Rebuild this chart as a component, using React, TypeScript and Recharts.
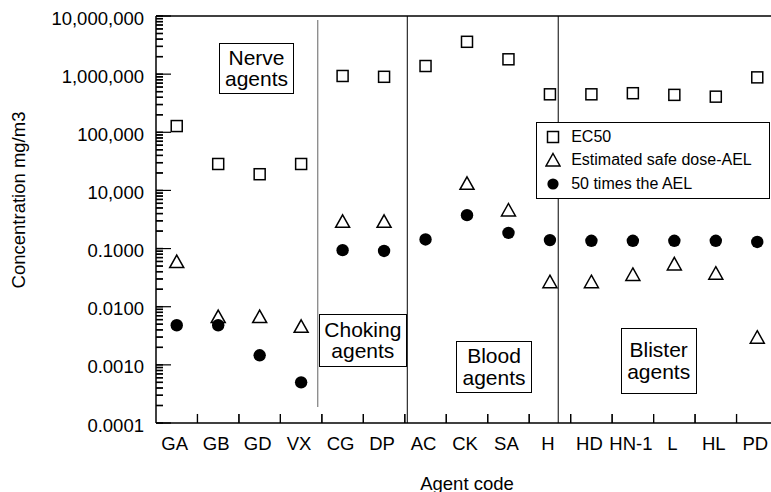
import React from 'react';
import { ScatterChart, Scatter, XAxis, YAxis, ReferenceLine } from 'recharts';

// agent codes along the x axis
const agents = ['GA', 'GB', 'GD', 'VX', 'CG', 'DP', 'AC', 'CK', 'SA', 'H', 'HD', 'HN-1', 'L', 'HL', 'PD'];

// values are in axis units: a log axis with ticks 1e-4 .. 1e3 (the upper four labels read x10,000)
const ec50 = [12.8, 2.85, 1.9, 2.85, 93, 90, 138, 360, 180, 45, 45, 47, 44, 41, 88];
const safeDose = [0.061, 0.0069, 0.0069, 0.0047, 0.3, 0.3, null, 1.35, 0.47, 0.0275, 0.0275, 0.0366, 0.0556, 0.0385, 0.00305];
const fiftyTimes = [0.0048, 0.0048, 0.00146, 0.0005, 0.094, 0.091, 0.1435, 0.376, 0.186, 0.14, 0.136, 0.136, 0.136, 0.136, 0.13];

const yTickValues = [0.0001, 0.001, 0.01, 0.1, 1, 10, 100, 1000];
const yTickLabels = ['0.0001', '0.0010', '0.0100', '0.1000', '10,000', '100,000', '1,000,000', '10,000,000'];

const seriesNames = ['EC50', 'Estimated safe dose-AEL', '50 times the AEL'];

const FONT = '"Liberation Sans", Arial, Helvetica, sans-serif';

// all y ticks: majors plus log minors (2..9 in each decade)
const yTicks: number[] = [];
yTickValues.forEach((d, i) => {
  yTicks.push(d);
  if (i < yTickValues.length - 1) {
    for (let k = 2; k <= 9; k++) yTicks.push(d * k);
  }
});

// category centres get labels, whole numbers are the boundaries with tick marks
const xLabelTicks = agents.map((_, i) => i + 0.5);
const xBoundaries = agents.slice(1).map((_, i) => i + 1);

const X_TICK_TOP = 1.43e-4;

// tick marks drawn as a marker series so they go through the same scales
const yTickMarks = yTicks.map((v) => ({ x: 0, y: v, major: yTickValues.some((t) => Math.abs(t - v) / t < 1e-6) }));
const xTickMarks = xBoundaries.map((b) => ({ x: b, y: 0.0001 }));

const toPoints = (vals: (number | null)[]) =>
  vals.map((v, i) => ({ x: i + 0.5, y: v })).filter((p) => p.y != null);

const YTick = (props: any) => {
  const { x, y, payload } = props;
  const idx = yTickValues.findIndex((t) => Math.abs(t - payload.value) / t < 1e-6);
  if (idx < 0) return <g />;
  return (
    <text x={x} y={y + 2} dy="0.355em" textAnchor="end" fontSize={18.5} fill="#000" fontFamily={FONT}>
      {yTickLabels[idx]}
    </text>
  );
};

const XTick = (props: any) => {
  const { x, y, payload } = props;
  return (
    <text x={x - 2} y={y} dy="0.71em" textAnchor="middle" fontSize={18.5} fill="#000" fontFamily={FONT}>
      {agents[Math.floor(payload.value)]}
    </text>
  );
};

const YMark = (props: any) => {
  const { cx, cy, payload } = props;
  const len = payload && payload.major ? 15 : 7;
  return <line x1={cx} x2={cx + len} y1={cy} y2={cy} stroke="#000" strokeWidth={1.2} />;
};
const XMark = ({ cx, cy }: any) => <line x1={cx} x2={cx} y1={cy} y2={cy - 9} stroke="#000" strokeWidth={1.2} />;

const Square = ({ cx, cy }: any) => (
  <rect x={cx - 5.5} y={cy - 5.5} width={11} height={11} fill="#fff" stroke="#000" strokeWidth={1.5} />
);
const Triangle = ({ cx, cy }: any) => (
  <path d={`M${cx},${cy - 6} L${cx + 7},${cy + 6.5} L${cx - 7},${cy + 6.5} Z`} fill="#fff" stroke="#000" strokeWidth={1.5} />
);
const Dot = ({ cx, cy }: any) => <circle cx={cx} cy={cy} r={6.2} fill="#000" />;

const icons = [
  <rect key="s" x={2.5} y={2.5} width={11} height={11} fill="#fff" stroke="#000" strokeWidth={1.5} />,
  <path key="t" d="M8,1.5 L15,14 L1,14 Z" fill="#fff" stroke="#000" strokeWidth={1.5} />,
  <circle key="c" cx={8} cy={8} r={5.6} fill="#000" />,
];

const LegendBox = () => (
  <div
    style={{
      position: 'absolute',
      left: 535.7,
      top: 121.7,
      boxSizing: 'border-box',
      width: 234.6,
      height: 77.6,
      border: '1.5px solid #000',
      background: '#fff',
      display: 'flex',
      flexDirection: 'column',
      justifyContent: 'center',
      paddingLeft: 8.8,
      fontFamily: FONT,
      fontSize: 16,
      color: '#000',
    }}
  >
    {seriesNames.map((name, i) => (
      <div key={name} style={{ display: 'flex', alignItems: 'center', height: 23.3 }}>
        <svg width={16} height={16} style={{ marginRight: 9.7 }}>
          {icons[i]}
        </svg>
        <span>{name}</span>
      </div>
    ))}
  </div>
);

const groupBoxes = [
  { lines: ['Nerve', 'agents'], left: 219, top: 42.7, width: 75, height: 51.6 },
  { lines: ['Choking', 'agents'], left: 319, top: 314.3, width: 87.7, height: 52.4 },
  { lines: ['Blood', 'agents'], left: 455.7, top: 341, width: 76.6, height: 52.3 },
  { lines: ['Blister', 'agents'], left: 620.7, top: 328.3, width: 76, height: 65.7 },
];

export default function App() {
  return (
    <div
      style={{
        position: 'fixed',
        left: 0,
        top: 0,
        width: 771,
        height: 492,
        overflow: 'hidden',
        background: '#fff',
        fontFamily: FONT,
      }}
    >
      <ScatterChart width={790} height={492} margin={{ top: 16, right: 12, bottom: 0, left: 0 }}>
        <XAxis
          type="number"
          dataKey="x"
          domain={[0, 15]}
          ticks={xLabelTicks}
          interval={0}
          tick={<XTick />}
          tickSize={0}
          tickMargin={14}
          tickLine={false}
          stroke="#000"
          strokeWidth={1.5}
          height={69}
        />
        <YAxis
          type="number"
          dataKey="y"
          scale="log"
          domain={[0.0001, 1000]}
          ticks={yTicks}
          interval={0}
          tick={<YTick />}
          tickSize={-7}
          tickMargin={19}
          stroke="#000"
          strokeWidth={1.5}
          width={156}
        />
        <ReferenceLine y={1000} stroke="#000" strokeWidth={1.5} />
        {xBoundaries.map((b) => (
          <ReferenceLine
            key={`xb${b}`}
            segment={[
              { x: b, y: 0.0001 },
              { x: b, y: X_TICK_TOP },
            ]}
            stroke="#000"
            strokeWidth={1.2}
          />
        ))}
        <ReferenceLine
          segment={[
            { x: 3.9, y: 850 },
            { x: 3.9, y: 0.000188 },
          ]}
          stroke="#888"
          strokeWidth={1.3}
        />
        <ReferenceLine x={6.06} stroke="#000" strokeWidth={1} />
        <ReferenceLine x={9.7} stroke="#000" strokeWidth={1} />
        <Scatter name="y ticks" data={yTickMarks} shape={<YMark />} legendType="none" isAnimationActive={false} />
        <Scatter name="x ticks" data={xTickMarks} shape={<XMark />} legendType="none" isAnimationActive={false} />
        <Scatter name={seriesNames[0]} data={toPoints(ec50)} shape={<Square />} isAnimationActive={false} />
        <Scatter name={seriesNames[1]} data={toPoints(safeDose)} shape={<Triangle />} isAnimationActive={false} />
        <Scatter name={seriesNames[2]} data={toPoints(fiftyTimes)} shape={<Dot />} isAnimationActive={false} />
      </ScatterChart>
      <svg width={771} height={492} style={{ position: 'absolute', left: 0, top: 0, pointerEvents: 'none' }}>
        <text x={467} y={489.5} textAnchor="middle" fontSize={18.5} fill="#000" fontFamily={FONT}>
          Agent code
        </text>
        <text
          x={25}
          y={200}
          textAnchor="middle"
          fontSize={18.5}
          fill="#000"
          fontFamily={FONT}
          transform="rotate(-90, 25, 200)"
        >
          Concentration mg/m3
        </text>
      </svg>
      <LegendBox />
      {groupBoxes.map((b) => (
        <div
          key={b.lines[0]}
          style={{
            position: 'absolute',
            left: b.left,
            top: b.top,
            width: b.width,
            height: b.height,
            boxSizing: 'border-box',
            border: '1.5px solid #000',
            background: '#fff',
            display: 'flex',
            flexDirection: 'column',
            alignItems: 'center',
            justifyContent: 'center',
            fontSize: 21,
            lineHeight: '21.7px',
            color: '#000',
          }}
        >
          {b.lines.map((l) => (
            <span key={l}>{l}</span>
          ))}
        </div>
      ))}
    </div>
  );
}
